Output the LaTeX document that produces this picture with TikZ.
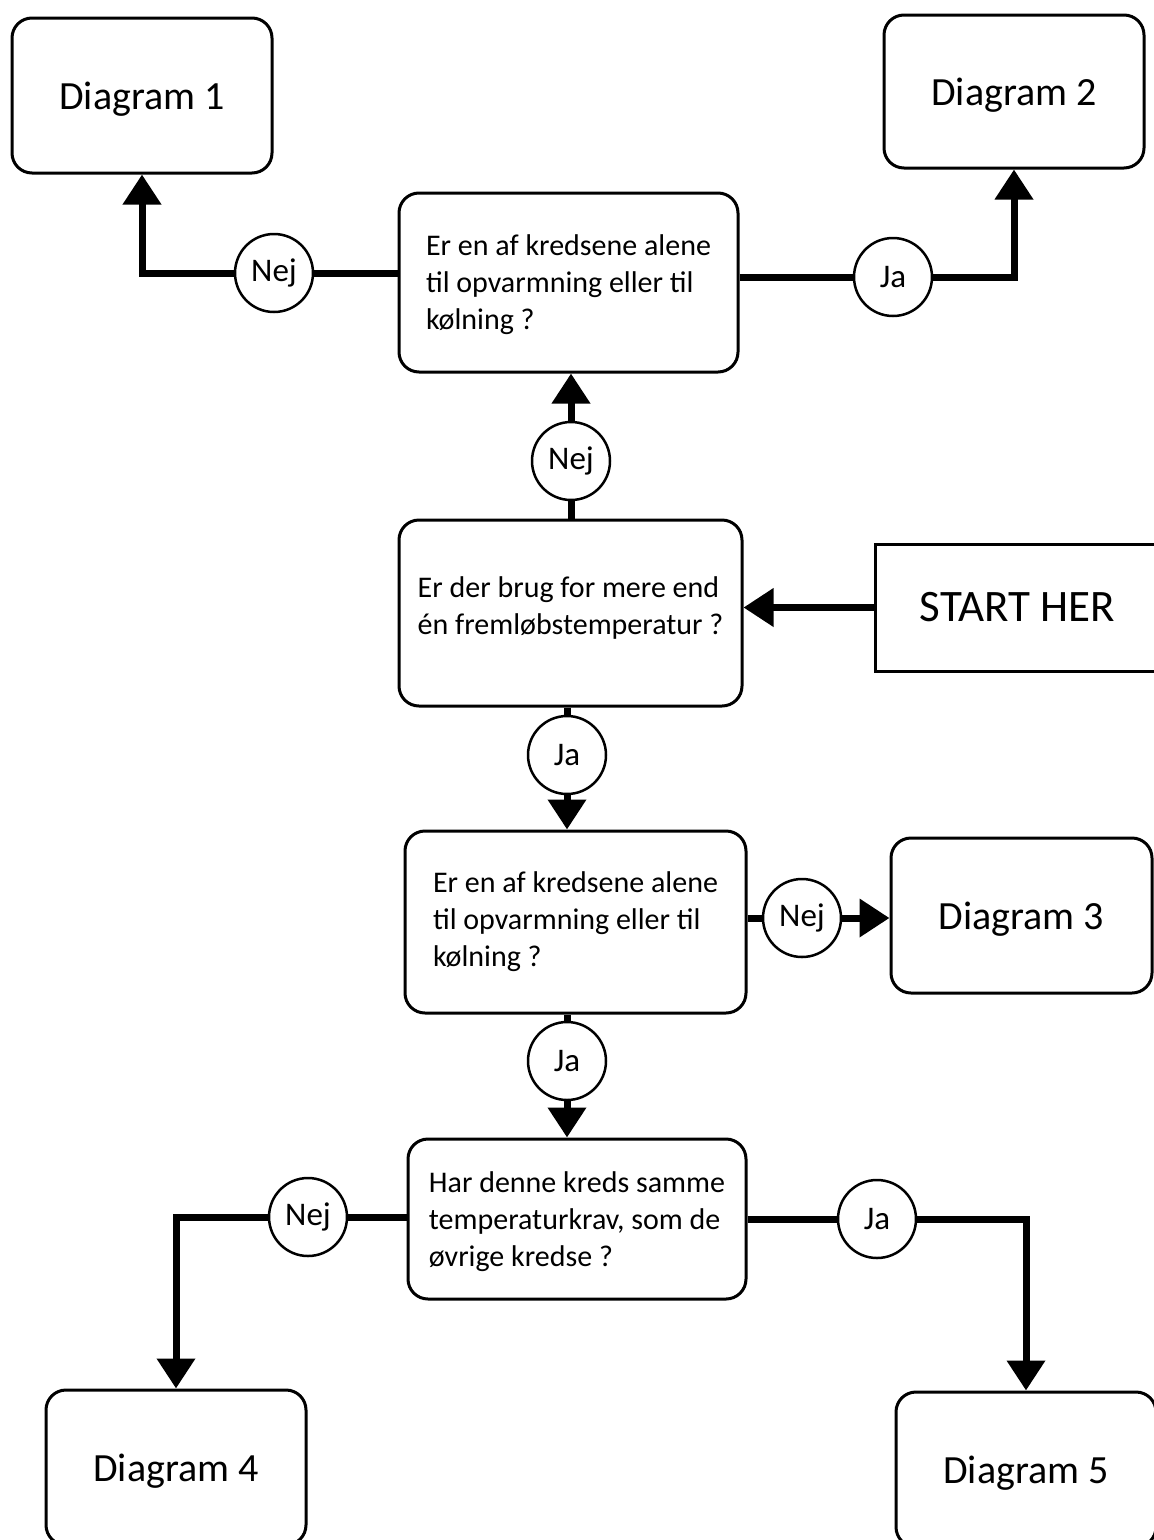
\documentclass[tikz,border=0pt]{standalone}
\usepackage{fontspec}
\setmainfont{Carlito}
\usetikzlibrary{positioning, arrows.meta}

\tikzset{
  box/.style = {draw, line width=3pt, rounded corners=20pt, minimum width=260pt,
                minimum height=155pt, text depth=-4pt, font=\fontsize{40}{44}\selectfont},
  qbox/.style = {draw, line width=3pt, rounded corners=20pt, align=left,
                 font=\fontsize{30}{37}\selectfont},
  answer/.style = {draw, circle, line width=2.5pt, fill=white, minimum size=78pt,
                   inner sep=0pt, font=\fontsize{33}{36}\selectfont},
  link/.style = {line width=7pt},
  go/.style = {link, -{Triangle[length=30pt, width=37pt]}}
}

\begin{document}
\begin{tikzpicture}[x=1pt, y=-1pt]
  \useasboundingbox (0,0) rectangle (1154,1540);

  % results
  \node[box] (d1) at (142,95.5) {Diagram 1};
  \node[box, minimum height=153pt, text depth=-10pt] (d2) at (1014,91.5) {Diagram 2};
  \node[box, minimum width=261pt] (d3) at (1021.5,915.5) {Diagram 3};
  \node[box] (d4) at (176,1467.5) {Diagram 4};
  \node[box] (d5) at (1026,1469.5) {Diagram 5};

  % questions
  \node[qbox, minimum width=339pt, minimum height=179pt, text depth=-8pt] (q1) at (568.5,282.5)
    {Er en af kredsene alene\\til opvarmning eller til\\kølning ?};
  \node[qbox, minimum width=343pt, minimum height=186pt, text depth=14pt] (q2) at (570.5,613)
    {Er der brug for mere end\\én fremløbstemperatur ?};
  \node[qbox, minimum width=341pt, minimum height=182pt] (q3) at (575.5,922)
    {Er en af kredsene alene\\til opvarmning eller til\\kølning ?};
  \node[qbox, minimum width=338pt, minimum height=160pt, text depth=-8pt] (q4) at (577,1219)
    {Har denne kreds samme\\temperaturkrav, som de\\øvrige kredse ?};

  \node[draw, line width=3pt, minimum width=285pt, minimum height=127pt,
        font=\fontsize{45}{48}\selectfont] (start) at (1017.5,607.5) {START HER};

  % answers
  \node[answer] (nej1) at (274,273) {Nej};
  \node[answer] (ja1) at (893,277) {Ja};
  \node[answer] (nej2) at (571,461) {Nej};
  \node[answer] (ja2) at (567,755) {Ja};
  \node[answer] (nej3) at (802,918) {Nej};
  \node[answer] (ja3) at (567,1061) {Ja};
  \node[answer] (nej4) at (308,1217) {Nej};
  \node[answer] (ja4) at (877,1219) {Ja};

  % connectors
  \draw[go] (start.west) -- (start.west -| q2.east);

  \draw[link] (q2.north -| nej2) -- (nej2);
  \draw[go] (nej2) -- (nej2 |- q1.south);

  \draw[link] (nej1 -| q1.west) -- (nej1);
  \draw[go] (nej1) -| (d1);
  \draw[link] (ja1 -| q1.east) -- (ja1);
  \draw[go] (ja1) -| (d2);

  \draw[link] (ja2 |- q2.south) -- (ja2);
  \draw[go] (ja2) -- (ja2 |- q3.north);

  \draw[link] (nej3 -| q3.east) -- (nej3);
  \draw[go] (nej3) -- (nej3 -| d3.west);

  \draw[link] (ja3 |- q3.south) -- (ja3);
  \draw[go] (ja3) -- (ja3 |- q4.north);

  \draw[link] (nej4 -| q4.west) -- (nej4);
  \draw[go] (nej4) -| (d4);
  \draw[link] (ja4 -| q4.east) -- (ja4);
  \draw[go] (ja4) -| (d5);
\end{tikzpicture}
\end{document}
